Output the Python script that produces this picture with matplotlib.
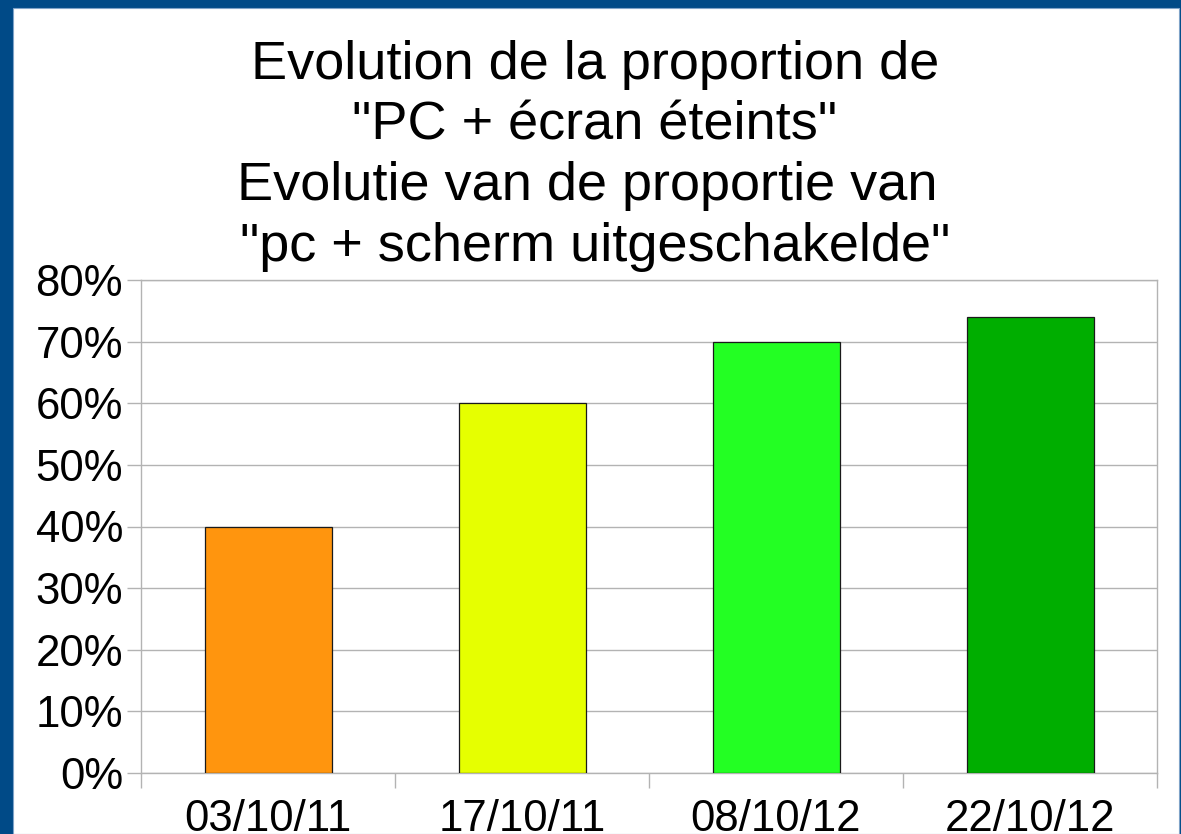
import numpy as np
import matplotlib.pyplot as plt
import matplotlib.patches as pat
from matplotlib.ticker import FuncFormatter

plt.rcParams['font.family'] = ['Liberation Sans', 'DejaVu Sans']

# data
dates = ['03/10/11', '17/10/11', '08/10/12', '22/10/12']
proportions = [0.40, 0.60, 0.70, 0.74]
bar_colors = ['#FF950E', '#E6FF00', '#23FF23', '#00AE00']
title = ('Evolution de la proportion de\n"PC + écran éteints"\n'
         'Evolutie van de proportie van \n"pc + scherm uitgeschakelde"')

W, H = 1181, 834
fig = plt.figure(figsize=(W/100, H/100), dpi=100)
fig.patch.set_facecolor('#004A87')

# white page inside the blue frame
page = pat.Rectangle((13/W, 0), (1179-13)/W, (H-8)/H, transform=fig.transFigure,
                     fc='white', ec='#7fa3c8', lw=0.8, zorder=-5)
fig.patches.append(page)

ax = fig.add_axes([141/W, (H-773)/H, (1157-141)/W, (773-280)/H])
ax.set_facecolor('white')

x = np.arange(len(dates))
ax.bar(x, proportions, width=0.5, color=bar_colors, edgecolor='#1a1a1a',
       linewidth=0.9, zorder=3)

ax.set_xlim(-0.5, len(dates) - 0.5)
ax.set_ylim(0, 0.8)
ax.set_yticks(np.arange(0, 0.81, 0.1))
ax.yaxis.set_major_formatter(FuncFormatter(lambda v, p: '%d%%' % round(v*100)))
ax.grid(axis='y', color='#b3b3b3', linewidth=1, zorder=0)

ax.set_xticks(x)
ax.set_xticklabels(dates)
ax.set_xticks(np.arange(-0.5, len(dates), 1), minor=True)
ax.tick_params(axis='x', which='major', length=0, pad=19, labelsize=31.5)
ax.tick_params(axis='x', which='minor', length=11, color='#b3b3b3', width=1)
ax.tick_params(axis='y', length=10, color='#b3b3b3', width=1, pad=3, labelsize=31.5)

for s in ax.spines.values():
    s.set_color('#b3b3b3')
    s.set_linewidth(1)

fig.text(595/W, 1 - 40/H, title, ha='center', va='top', fontsize=39,
         linespacing=1.27)

fig.savefig('out.png', dpi=100, facecolor=fig.get_facecolor())
